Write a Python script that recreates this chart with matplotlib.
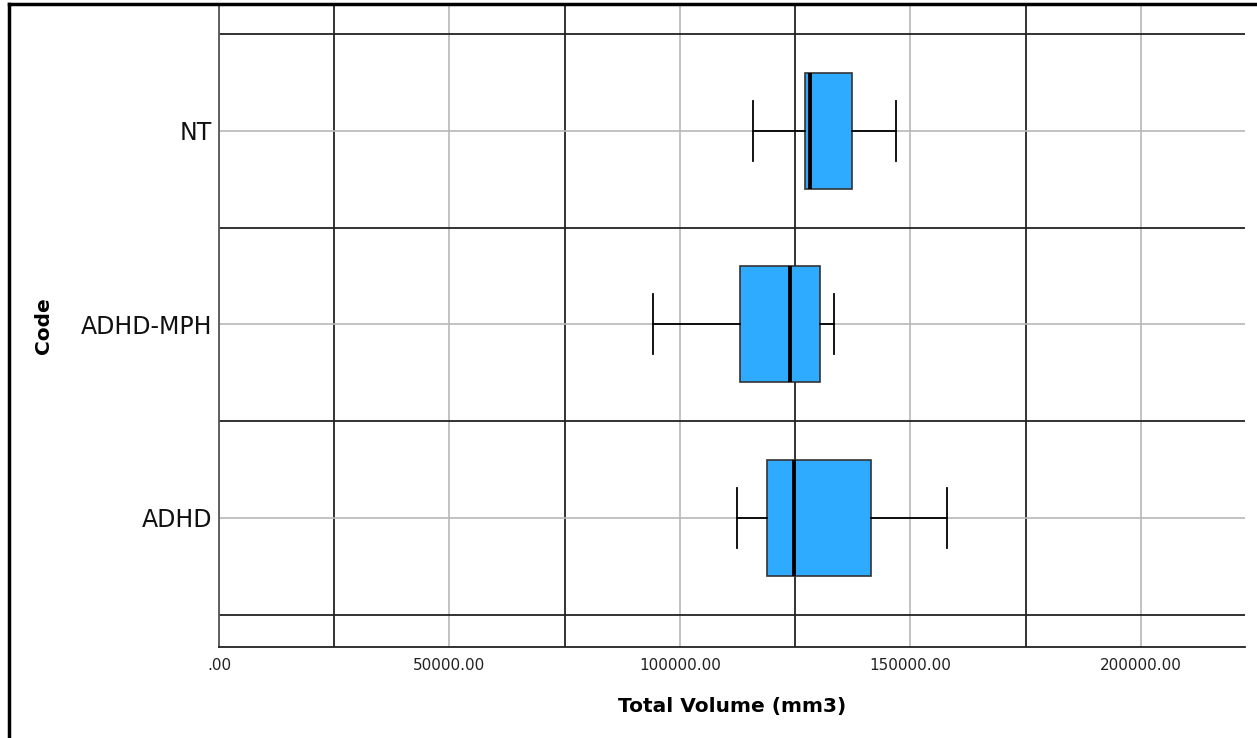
import matplotlib
matplotlib.use("Agg")
import matplotlib.pyplot as plt
from matplotlib.ticker import FixedLocator, FuncFormatter
from matplotlib.lines import Line2D

# groups, bottom to top
groups = ["ADHD", "ADHD-MPH", "NT"]
whis_lo = [112430, 94210, 115900]
q1 = [118870, 113090, 127110]
medians = [124730, 123790, 128200]
q3 = [141500, 130300, 137380]
whis_hi = [157980, 133470, 146850]

stats = []
for i, g in enumerate(groups):
    stats.append({"label": g, "whislo": whis_lo[i], "q1": q1[i], "med": medians[i],
                  "q3": q3[i], "whishi": whis_hi[i], "fliers": []})

fig = plt.figure(figsize=(12.57, 7.38), dpi=100)
ax = fig.add_axes([219 / 1257, 1 - 647 / 738, (1245 - 219) / 1257, (647 - 5) / 738])

ax.bxp(stats, positions=[1, 2, 3], vert=False, widths=0.6, patch_artist=True,
       boxprops=dict(facecolor="#2eaaff", edgecolor="#333333", linewidth=1.2),
       medianprops=dict(color="black", linewidth=2.8),
       whiskerprops=dict(color="black", linewidth=1.3),
       capprops=dict(color="black", linewidth=1.3), capwidths=0.31,
       zorder=3)

ax.set_xlim(0, 222560)
ax.set_ylim(0.333, 3.651)

ax.xaxis.set_major_locator(FixedLocator([0, 50000, 100000, 150000, 200000]))
ax.xaxis.set_minor_locator(FixedLocator([25000, 75000, 125000, 175000]))
ax.yaxis.set_major_locator(FixedLocator([1, 2, 3]))
ax.yaxis.set_minor_locator(FixedLocator([0.5, 1.5, 2.5, 3.5]))
ax.set_yticklabels(groups)
ax.xaxis.set_major_formatter(FuncFormatter(lambda v, p: ".00" if v == 0 else f"{v:.2f}"))

ax.grid(True, which="major", color="#b8b8b8", linewidth=1.2, zorder=0)
ax.grid(True, which="minor", color="#222222", linewidth=1.3, zorder=1)
ax.set_axisbelow(True)

ax.tick_params(which="both", length=0)
ax.tick_params(axis="x", pad=8, labelsize=11, labelcolor="#222222")
ax.tick_params(axis="y", pad=5, labelsize=17, labelcolor="#111111")

for s in ["top", "right"]:
    ax.spines[s].set_visible(False)
ax.spines["left"].set_color("#555555")
ax.spines["left"].set_linewidth(1.3)
ax.spines["bottom"].set_color("#222222")
ax.spines["bottom"].set_linewidth(1.3)

ax.set_xlabel("Total Volume (mm3)", fontsize=14.5, fontweight="bold", labelpad=17)
ax.set_ylabel("Code", fontsize=14.5, fontweight="bold", labelpad=20)

# outer frame of the output window
fig.add_artist(Line2D([9 / 1257, 9 / 1257], [0, 1 - 4 / 738], color="black", linewidth=2.5,
                      transform=fig.transFigure))
fig.add_artist(Line2D([9 / 1257, 1], [1 - 4 / 738, 1 - 4 / 738], color="black", linewidth=2.5,
                      transform=fig.transFigure))

fig.savefig("out.png", dpi=100)
